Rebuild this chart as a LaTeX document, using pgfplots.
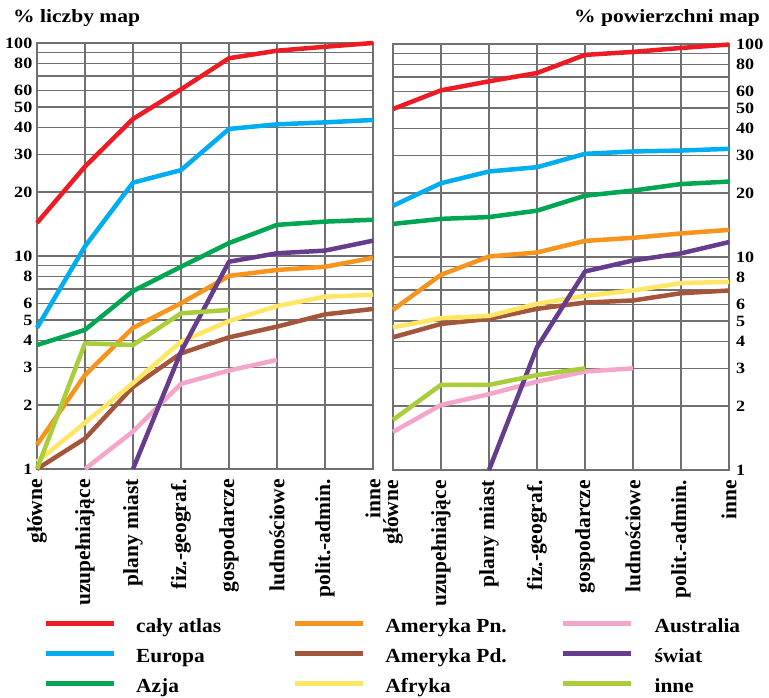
\documentclass[border=0pt]{standalone}
\usepackage{fontspec}
\setmainfont{Liberation Serif}
\newfontfamily\bserif{Liberation Serif Bold}
\usepackage{graphicx}
\usepackage{pgfplots}
\pgfplotsset{compat=1.18}
\usepackage{pgfplotstable}

\definecolor{gridgray}{RGB}{112,112,112}
\definecolor{cAtlas}{RGB}{237,28,36}
\definecolor{cEur}{RGB}{0,174,239}
\definecolor{cAzja}{RGB}{0,166,81}
\definecolor{cAPn}{RGB}{247,148,29}
\definecolor{cAPd}{RGB}{164,86,60}
\definecolor{cAfr}{RGB}{255,230,100}
\definecolor{cAus}{RGB}{244,166,202}
\definecolor{cSwiat}{RGB}{102,60,140}
\definecolor{cInne}{RGB}{170,205,60}

% wide letterforms
\newcommand\wtick[1]{\scalebox{1.15}[1]{#1}}  % y tick labels, titles
\newcommand\wleg[1]{\scalebox{1.07}[1]{#1}}   % legend

% udział procentowy: liczba map
\pgfplotstableread{
x atlas europa azja apn apd afr aus swiat inne
0 14.3 4.6  3.82 1.30 1.0  1.08 nan  nan  1.0
1 26.3 11.1 4.5  2.76 1.39 1.65 1.0  nan  3.89
2 44.0 22.1 6.85 4.6  2.43 2.53 1.5  1.0  3.82
3 60.6 25.3 8.9  6.0  3.49 3.96 2.51 3.55 5.38
4 84.8 39.5 11.5 8.06 4.15 4.95 2.9  9.4  5.58
5 92.0 41.5 14.0 8.6  4.66 5.82 3.25 10.3 nan
6 96.0 42.4 14.5 8.9  5.32 6.44 nan  10.6 nan
7 100  43.5 14.8 9.8  5.64 6.58 nan  11.8 nan
}\liczba

% udział procentowy: powierzchnia map
\pgfplotstableread{
x atlas europa azja apn apd afr aus swiat inne
0 49.5 17.4 14.3 5.65  4.2  4.67 1.51 nan   1.72
1 60.6 22.2 15.1 8.25  4.85 5.16 2.02 nan   2.51
2 66.8 25.2 15.4 10.05 5.12 5.29 2.27 1.0   2.51
3 73.1 26.4 16.5 10.5  5.71 6.03 2.60 3.77  2.79
4 88.9 30.5 19.4 11.9  6.11 6.57 2.90 8.55  3.0
5 91.8 31.3 20.5 12.3  6.25 6.96 3.0  9.63  nan
6 95.8 31.6 22.0 12.9  6.76 7.54 nan  10.4  nan
7 99.4 32.2 22.6 13.4  6.96 7.65 nan  11.75 nan
}\powierzchnia

\begin{document}
\begin{tikzpicture}
\useasboundingbox (0pt,0pt) rectangle (769pt,698pt);

\begin{axis}[
  width=336pt, height=426pt, scale only axis, anchor=south west,
  at={(37pt,229pt)},
  ymode=log, ymin=1, ymax=100, xmin=0, xmax=7,
  xtick={0,...,7},
  xticklabels={główne,uzupełniające,plany miast,fiz.-geograf.,gospodarcze,ludnościowe,polit.-admin.,inne},
  ytick={1,2,3,4,5,6,7,8,9,10,20,30,40,50,60,70,80,90,100},
  yticklabels={\wtick{1},\wtick{2},\wtick{3},\wtick{4},\wtick{5},\wtick{6},,\wtick{8},,\wtick{10},\wtick{20},\wtick{30},\wtick{40},\wtick{50},\wtick{60},,\wtick{80},,\wtick{100}},
  grid=major,
  major grid style={draw=gridgray, line width=1.3pt},
  axis line style={draw=gridgray, line width=1.3pt},
  major tick length=0pt,
  clip=false,
  xticklabel style={rotate=90, anchor=east, inner sep=0pt, xshift=-10pt,
    font=\bserif\fontsize{21.5}{21.5}\selectfont},
  yticklabel style={inner sep=0pt, xshift=-4.5pt,
    font=\bserif\fontsize{15.7}{16}\selectfont},
  every axis plot/.append style={line width=4.5pt, line join=round},
]
\addplot[cAtlas] table[x=x, y=atlas] {\liczba};
\addplot[cEur] table[x=x, y=europa] {\liczba};
\addplot[cAzja] table[x=x, y=azja] {\liczba};
\addplot[cAPn] table[x=x, y=apn] {\liczba};
\addplot[cAPd] table[x=x, y=apd] {\liczba};
\addplot[cAfr] table[x=x, y=afr] {\liczba};
\addplot[cAus] table[x=x, y=aus] {\liczba};
\addplot[cSwiat] table[x=x, y=swiat] {\liczba};
\addplot[cInne] table[x=x, y=inne] {\liczba};
\end{axis}

\begin{axis}[
  width=336pt, height=426pt, scale only axis, anchor=south west,
  at={(393pt,228pt)},
  ymode=log, ymin=1, ymax=100, xmin=0, xmax=7,
  xtick={0,...,7},
  xticklabels={główne,uzupełniające,plany miast,fiz.-geograf.,gospodarcze,ludnościowe,polit.-admin.,inne},
  ytick={1,2,3,4,5,6,7,8,9,10,20,30,40,50,60,70,80,90,100},
  yticklabels={\wtick{1},\wtick{2},\wtick{3},\wtick{4},\wtick{5},\wtick{6},,\wtick{8},,\wtick{10},\wtick{20},\wtick{30},\wtick{40},\wtick{50},\wtick{60},,\wtick{80},,\wtick{100}},
  yticklabel pos=right,
  grid=major,
  major grid style={draw=gridgray, line width=1.3pt},
  axis line style={draw=gridgray, line width=1.3pt},
  major tick length=0pt,
  clip=false,
  xticklabel style={rotate=90, anchor=east, inner sep=0pt, xshift=-10pt,
    font=\bserif\fontsize{21.5}{21.5}\selectfont},
  yticklabel style={inner sep=0pt, xshift=7pt,
    font=\bserif\fontsize{15.7}{16}\selectfont},
  every axis plot/.append style={line width=4.5pt, line join=round},
]
\addplot[cAtlas] table[x=x, y=atlas] {\powierzchnia};
\addplot[cEur] table[x=x, y=europa] {\powierzchnia};
\addplot[cAzja] table[x=x, y=azja] {\powierzchnia};
\addplot[cAPn] table[x=x, y=apn] {\powierzchnia};
\addplot[cAPd] table[x=x, y=apd] {\powierzchnia};
\addplot[cAfr] table[x=x, y=afr] {\powierzchnia};
\addplot[cAus] table[x=x, y=aus] {\powierzchnia};
\addplot[cSwiat] table[x=x, y=swiat] {\powierzchnia};
\addplot[cInne] table[x=x, y=inne] {\powierzchnia};
\end{axis}

% legend: three columns of three entries
\begin{axis}[
  width=336pt, height=426pt, scale only axis, anchor=south west,
  at={(37pt,229pt)}, hide axis, xmin=0, xmax=1, ymin=0, ymax=1,
  legend cell align=left,
  legend image code/.code={\path (0pt,0pt); \draw[#1, line width=4.5pt] (0pt,4pt) -- (68.4pt,4pt);},
  legend style={at={(axis description cs:0.01875,-0.3486)}, anchor=north west,
    draw=none, fill=none, inner sep=0pt, outer sep=0pt, row sep=10pt,
    font=\bserif\fontsize{20}{20}\selectfont,
    nodes={inner sep=0pt, text height=15pt, text depth=5pt},
    /tikz/every odd column/.append style={column sep=20pt}},
]
\addlegendimage{cAtlas}\addlegendentry{\wleg{cały atlas}}
\addlegendimage{cEur}\addlegendentry{\wleg{Europa}}
\addlegendimage{cAzja}\addlegendentry{\wleg{Azja}}
\end{axis}
\begin{axis}[
  width=336pt, height=426pt, scale only axis, anchor=south west,
  at={(37pt,229pt)}, hide axis, xmin=0, xmax=1, ymin=0, ymax=1,
  legend cell align=left,
  legend image code/.code={\path (0pt,0pt); \draw[#1, line width=4.5pt] (0pt,4pt) -- (68.4pt,4pt);},
  legend style={at={(axis description cs:0.7598,-0.3486)}, anchor=north west,
    draw=none, fill=none, inner sep=0pt, outer sep=0pt, row sep=10pt,
    font=\bserif\fontsize{20}{20}\selectfont,
    nodes={inner sep=0pt, text height=15pt, text depth=5pt},
    /tikz/every odd column/.append style={column sep=20.3pt}},
]
\addlegendimage{cAPn}\addlegendentry{\wleg{Ameryka Pn.}}
\addlegendimage{cAPd}\addlegendentry{\wleg{Ameryka Pd.}}
\addlegendimage{cAfr}\addlegendentry{\wleg{Afryka}}
\end{axis}
\begin{axis}[
  width=336pt, height=426pt, scale only axis, anchor=south west,
  at={(37pt,229pt)}, hide axis, xmin=0, xmax=1, ymin=0, ymax=1,
  legend cell align=left,
  legend image code/.code={\path (0pt,0pt); \draw[#1, line width=4.5pt] (0pt,4pt) -- (68.4pt,4pt);},
  legend style={at={(axis description cs:1.5586,-0.3486)}, anchor=north west,
    draw=none, fill=none, inner sep=0pt, outer sep=0pt, row sep=10pt,
    font=\bserif\fontsize{20}{20}\selectfont,
    nodes={inner sep=0pt, text height=15pt, text depth=5pt},
    /tikz/every odd column/.append style={column sep=21pt}},
]
\addlegendimage{cAus}\addlegendentry{\wleg{Australia}}
\addlegendimage{cSwiat}\addlegendentry{\wleg{świat}}
\addlegendimage{cInne}\addlegendentry{\wleg{inne}}
\end{axis}

\node[anchor=base west, inner sep=0pt,
  font=\bserif\fontsize{18.75}{20}\selectfont] at (13pt,675pt) {\wtick{\% liczby map}};
\node[anchor=base east, inner sep=0pt,
  font=\bserif\fontsize{18.75}{20}\selectfont] at (760pt,675.5pt) {\wtick{\% powierzchni map}};
\end{tikzpicture}
\end{document}
